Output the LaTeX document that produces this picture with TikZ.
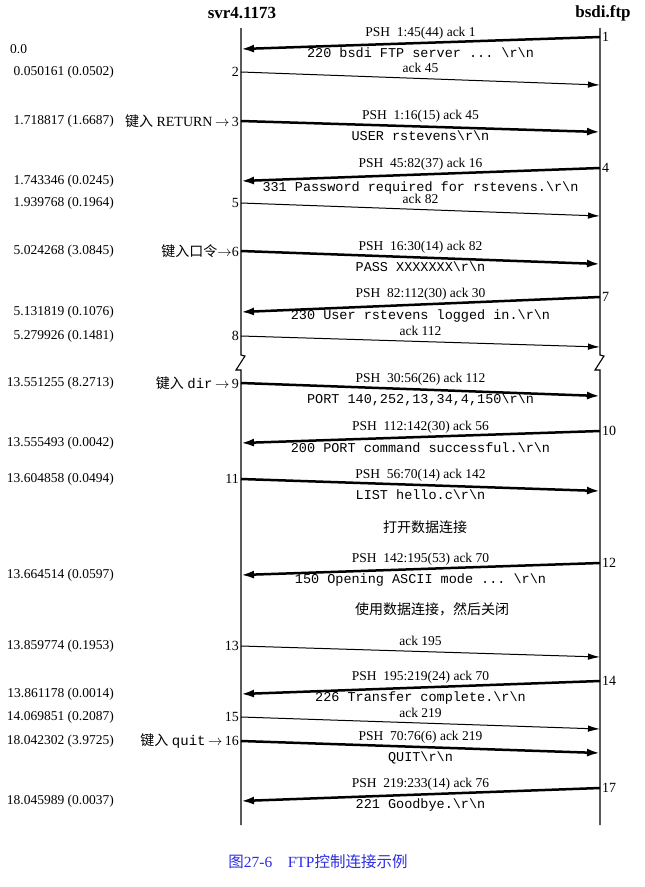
\documentclass[tikz,border=0pt]{standalone}
\usepackage{fontspec}
\setmainfont{Liberation Serif}
\setmonofont{Liberation Mono}
\newfontfamily\cjk{Noto Sans CJK SC}
\usetikzlibrary{arrows.meta}
\definecolor{capblue}{RGB}{45,45,225}
\newcommand\crlf{\textbackslash r\textbackslash n}
\begin{document}
\begin{tikzpicture}[x=1pt,y=-1pt,
 timeline/.style={line width=1.1pt},
 thickmsg/.style={line width=2.5pt,-{Latex[length=13pt,width=8pt]}},
 thinmsg/.style={line width=1pt,-{Latex[length=12pt,width=6.5pt]}},
 toplbl/.style={midway,above,inner sep=2.5pt,text height=9.5pt,text depth=3pt,font=\fontsize{13.5}{15}\selectfont},
 botlbl/.style={midway,below,inner sep=5pt,text height=8pt,text depth=2.5pt,font=\fontsize{13.5}{15}\ttfamily},
 timelbl/.style={anchor=east,inner sep=0pt,font=\fontsize{13.5}{15}\selectfont},
 lnum/.style={anchor=east,inner sep=2pt,font=\fontsize{14}{15}\selectfont},
 rnum/.style={anchor=west,inner sep=2pt,font=\fontsize{14}{15}\selectfont},
 hdr/.style={inner sep=0pt,font=\fontsize{17}{18}\bfseries},
 note/.style={inner sep=0pt,font=\fontsize{14}{16}\cjk},
]
\useasboundingbox (0,0) rectangle (645,887);

% headers
\node[hdr] (hl) at (242,13) {svr4.1173};
\node[hdr] (hr) at (603,13) {bsdi.ftp};

% timelines
\coordinate (ltop) at (241,28);
\coordinate (lb1) at (241,355);
\coordinate (lb2) at (241,370);
\coordinate (lbot) at (241,825);
\coordinate (rtop) at (600,28);
\coordinate (rb1) at (600,355);
\coordinate (rb2) at (600,370);
\coordinate (rbot) at (600,825);
\draw[timeline] (ltop) -- (lb1) -- ([xshift=4pt,yshift=-1pt]lb1) -- ([xshift=-5pt]lb2) -- (lb2) -- (lbot);
\draw[timeline] (rtop) -- (rb1) -- ([xshift=4pt,yshift=-1pt]rb1) -- ([xshift=-5pt]rb2) -- (rb2) -- (rbot);

% endpoints
\coordinate (R1) at (600,37);  \coordinate (L1) at (241,49);
\coordinate (L2) at (241,72);  \coordinate (R2) at (600,85);
\coordinate (L3) at (241,121); \coordinate (R3) at (600,132);
\coordinate (R4) at (600,168); \coordinate (L4) at (241,181);
\coordinate (L5) at (241,203); \coordinate (R5) at (600,216);
\coordinate (L6) at (241,251); \coordinate (R6) at (600,264);
\coordinate (R7) at (600,297); \coordinate (L7) at (241,312);
\coordinate (L8) at (241,336); \coordinate (R8) at (600,347);
\coordinate (L9) at (241,383); \coordinate (R9) at (600,396);
\coordinate (R10) at (600,431); \coordinate (L10) at (241,443);
\coordinate (L11) at (241,479); \coordinate (R11) at (600,491);
\coordinate (R12) at (600,563); \coordinate (L12) at (241,575);
\coordinate (L13) at (241,646); \coordinate (R13) at (600,657);
\coordinate (R14) at (600,681); \coordinate (L14) at (241,694);
\coordinate (L15) at (241,717); \coordinate (R15) at (600,729);
\coordinate (L16) at (241,741); \coordinate (R16) at (600,753);
\coordinate (R17) at (600,788); \coordinate (L17) at (241,801);

% messages
\draw[thickmsg] (R1) -- node[toplbl]{PSH\ \ 1:45(44) ack 1} node[botlbl]{220 bsdi FTP server ... \crlf} (L1);
\draw[thinmsg] (L2) -- node[toplbl]{ack 45} (R2);
\draw[thickmsg] (L3) -- node[toplbl]{PSH\ \ 1:16(15) ack 45} node[botlbl]{USER rstevens\crlf} (R3);
\draw[thickmsg] (R4) -- node[toplbl]{PSH\ \ 45:82(37) ack 16} node[botlbl,yshift=-2.5pt]{331 Password required for rstevens.\crlf} (L4);
\draw[thinmsg] (L5) -- node[toplbl]{ack 82} (R5);
\draw[thickmsg] (L6) -- node[toplbl]{PSH\ \ 16:30(14) ack 82} node[botlbl]{PASS XXXXXXX\crlf} (R6);
\draw[thickmsg] (R7) -- node[toplbl]{PSH\ \ 82:112(30) ack 30} node[botlbl,yshift=-1pt]{230 User rstevens logged in.\crlf} (L7);
\draw[thinmsg] (L8) -- node[toplbl]{ack 112} (R8);
\draw[thickmsg] (L9) -- node[toplbl]{PSH\ \ 30:56(26) ack 112} node[botlbl]{PORT 140,252,13,34,4,150\crlf} (R9);
\draw[thickmsg] (R10) -- node[toplbl]{PSH\ \ 112:142(30) ack 56} node[botlbl,yshift=-1pt]{200 PORT command successful.\crlf} (L10);
\draw[thickmsg] (L11) -- node[toplbl]{PSH\ \ 56:70(14) ack 142} node[botlbl]{LIST hello.c\crlf} (R11);
\draw[thickmsg] (R12) -- node[toplbl]{PSH\ \ 142:195(53) ack 70} node[botlbl]{150 Opening ASCII mode ... \crlf} (L12);
\draw[thinmsg] (L13) -- node[toplbl]{ack 195} (R13);
\draw[thickmsg] (R14) -- node[toplbl]{PSH\ \ 195:219(24) ack 70} node[botlbl]{226 Transfer complete.\crlf} (L14);
\draw[thinmsg] (L15) -- node[toplbl]{ack 219} (R15);
\draw[thickmsg] (L16) -- node[toplbl]{PSH\ \ 70:76(6) ack 219} node[botlbl]{QUIT\crlf} (R16);
\draw[thickmsg] (R17) -- node[toplbl]{PSH\ \ 219:233(14) ack 76} node[botlbl]{221 Goodbye.\crlf} (L17);

% segment numbers
\node[rnum] (n1) at (R1) {1};
\node[lnum] (n2) at (L2) {2};
\node[lnum] (n3) at (L3) {{\cjk 键入} RETURN$\,\rightarrow\,$3};
\node[rnum] (n4) at (R4) {4};
\node[lnum] (n5) at (L5) {5};
\node[lnum] (n6) at (L6) {{\cjk 键入口令}$\rightarrow$6};
\node[rnum] (n7) at (R7) {7};
\node[lnum] (n8) at (L8) {8};
\node[lnum] (n9) at (L9) {{\cjk 键入} \texttt{dir}$\,\rightarrow\,$9};
\node[rnum] (n10) at (R10) {10};
\node[lnum] (n11) at (L11) {11};
\node[rnum] (n12) at (R12) {12};
\node[lnum] (n13) at (L13) {13};
\node[rnum] (n14) at (R14) {14};
\node[lnum] (n15) at (L15) {15};
\node[lnum] (n16) at (L16) {{\cjk 键入} \texttt{quit}$\,\rightarrow\,$16};
\node[rnum] (n17) at (R17) {17};

% times
\node[timelbl,anchor=west] (t1) at (10,49) {0.0};
\node[timelbl] (t2) at (114,72) {0.050161 (0.0502)};
\node[timelbl] (t3) at (114,121) {1.718817 (1.6687)};
\node[timelbl] (t4) at (114,181) {1.743346 (0.0245)};
\node[timelbl] (t5) at (114,203) {1.939768 (0.1964)};
\node[timelbl] (t6) at (114,251) {5.024268 (3.0845)};
\node[timelbl] (t7) at (114,312) {5.131819 (0.1076)};
\node[timelbl] (t8) at (114,336) {5.279926 (0.1481)};
\node[timelbl] (t9) at (114,383) {13.551255 (8.2713)};
\node[timelbl] (t10) at (114,443) {13.555493 (0.0042)};
\node[timelbl] (t11) at (114,479) {13.604858 (0.0494)};
\node[timelbl] (t12) at (114,575) {13.664514 (0.0597)};
\node[timelbl] (t13) at (114,646) {13.859774 (0.1953)};
\node[timelbl] (t14) at (114,694) {13.861178 (0.0014)};
\node[timelbl] (t15) at (114,717) {14.069851 (0.2087)};
\node[timelbl] (t16) at (114,741) {18.042302 (3.9725)};
\node[timelbl] (t17) at (114,801) {18.045989 (0.0037)};

% notes
\node[note] (open) at (425,527) {打开数据连接};
\node[note] (use) at (432,609) {使用数据连接，然后关闭};

% caption
\node[inner sep=0pt,text=capblue,font=\fontsize{15.5}{17}\selectfont] (cap) at (318,862) {{\cjk 图}27-6\quad FTP{\cjk 控制连接示例}};
\end{tikzpicture}
\end{document}
